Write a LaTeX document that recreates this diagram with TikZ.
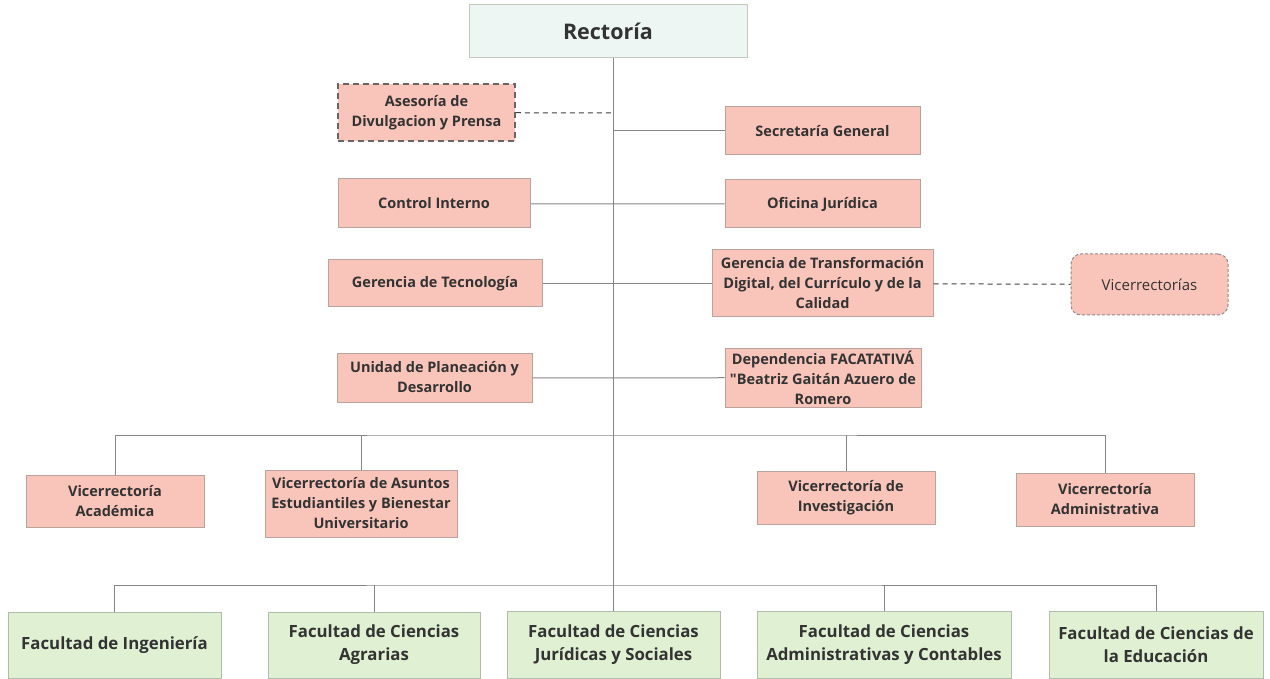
\documentclass[tikz,border=0pt]{standalone}
\usepackage{fontspec}
\setmainfont{Open Sans}[Ligatures=TeXOff]
\usetikzlibrary{positioning}
\definecolor{rosa}{HTML}{F9C5BA}
\definecolor{rosaline}{HTML}{B9A39D}
\definecolor{verde}{HTML}{E0F0D2}
\definecolor{verdeline}{HTML}{B3BCAA}
\definecolor{menta}{HTML}{EEF6F3}
\definecolor{linea}{HTML}{858585}
\definecolor{texto}{HTML}{333333}
\tikzset{%
  % Specifications for style of nodes:
            base/.style = {rectangle, draw=rosaline, fill=rosa, line width=1pt,
                            inner sep=0pt, align=center, text=texto,
                            font=\fontsize{14.5}{20}\selectfont\bfseries},
            fac/.style = {base, draw=verdeline, fill=verde,
                            font=\fontsize{16.8}{23}\selectfont\bfseries},
            top/.style = {base, draw=verdeline!80, fill=menta,
                            font=\fontsize{21.5}{24}\selectfont\bfseries},
            dotbox/.style = {base, draw=black!60, line width=1.8pt, dash pattern=on 6pt off 4pt},
            link/.style = {draw=linea, line width=1pt},
            dlink/.style = {draw=black!75, line width=1pt, dash pattern=on 5pt off 4pt}
}
\begin{document}
\begin{tikzpicture}[x=1pt, y=-1pt]
\useasboundingbox (0,0) rectangle (1270,679);

                \node[top, minimum width=278, minimum height=53] (rec) at (608,31.5) {Rectoría};

                \node[dotbox, minimum width=177, minimum height=57] (ase) at (426.5,112.5) {Asesoría de\\Divulgacion y Prensa};
                \node[base, minimum width=195, minimum height=48] (sec) at (822.5,131) {Secretaría General};
                \node[base, minimum width=192, minimum height=49] (con) at (434,203.5) {Control Interno};
                \node[base, minimum width=195, minimum height=48] (ofi) at (822.5,204) {Oficina Jurídica};
                \node[base, minimum width=214, minimum height=47] (tec) at (435,283.5) {Gerencia de Tecnología};
                \node[base, minimum width=221, minimum height=67] (gtd) at (822.5,283.5) {Gerencia de Transformación\\Digital, del Currículo y de la\\Calidad};
                \node[base, draw=black!45, rounded corners=10pt, minimum width=157, minimum height=61,
                      dash pattern=on 3pt off 2pt, font=\fontsize{15}{20}\selectfont] (vic) at (1149.5,284.5) {Vicerrectorías};
                \node[base, minimum width=195, minimum height=49] (upd) at (434.5,377.5) {Unidad de Planeación y\\Desarrollo};
                \node[base, minimum width=196, minimum height=59] (dep) at (823,377.5) {Dependencia FACATATIVÁ\\"Beatriz Gaitán Azuero de\\Romero};

                \node[base, minimum width=178, minimum height=52] (v1) at (115,501) {Vicerrectoría\\Académica};
                \node[base, minimum width=192, minimum height=67] (v2) at (361,503.5) {Vicerrectoría de Asuntos\\Estudiantiles y Bienestar\\Universitario};
                \node[base, minimum width=178, minimum height=53] (v3) at (846,497.5) {Vicerrectoría de\\Investigación};
                \node[base, minimum width=178, minimum height=53] (v4) at (1105,499.5) {Vicerrectoría\\Administrativa};

                \node[fac, minimum width=213, minimum height=66] (f1) at (114.5,645) {Facultad de Ingeniería};
                \node[fac, minimum width=212, minimum height=66] (f2) at (374,645) {Facultad de Ciencias\\Agrarias};
                \node[fac, minimum width=213, minimum height=67] (f3) at (613.5,644.5) {Facultad de Ciencias\\Jurídicas y Sociales};
                \node[fac, minimum width=254, minimum height=67] (f4) at (884,644.5) {Facultad de Ciencias\\Administrativas y Contables};
                \node[fac, minimum width=214, minimum height=67] (f5) at (1156,644.5) {Facultad de Ciencias de\\la Educación};

                % trunk and bars
                \coordinate (t1) at (613,113);
                \coordinate (t2) at (613,131);
                \coordinate (t3) at (613,204);
                \coordinate (t4) at (613,283.5);
                \coordinate (t5) at (613,378);
                \coordinate (vb) at (613,435);
                \coordinate (fb) at (613,585);
                \draw[link] (rec.south -| t1) -- (f3.north -| t1);
                \draw[dlink] (ase) -- (t1);
                \draw[link] (t2) -- (sec);
                \draw[link] (con) -- (t3) -- (ofi);
                \draw[link] (tec) -- (t4) -- (gtd);
                \draw[dlink] (gtd) -- (vic);
                \draw[link] (upd) -- (t5) -- (dep);

                \draw[link] (v1.north) |- (vb) -| (v4.north);
                \draw[link] (v2.north) -- (v2.north |- vb);
                \draw[link] (v3.north) -- (v3.north |- vb);

                \draw[link] (f1.north) |- (fb) -| (f5.north);
                \draw[link] (f2.north) -- (f2.north |- fb);
                \draw[link] (f4.north) -- (f4.north |- fb);

\end{tikzpicture}
\end{document}
